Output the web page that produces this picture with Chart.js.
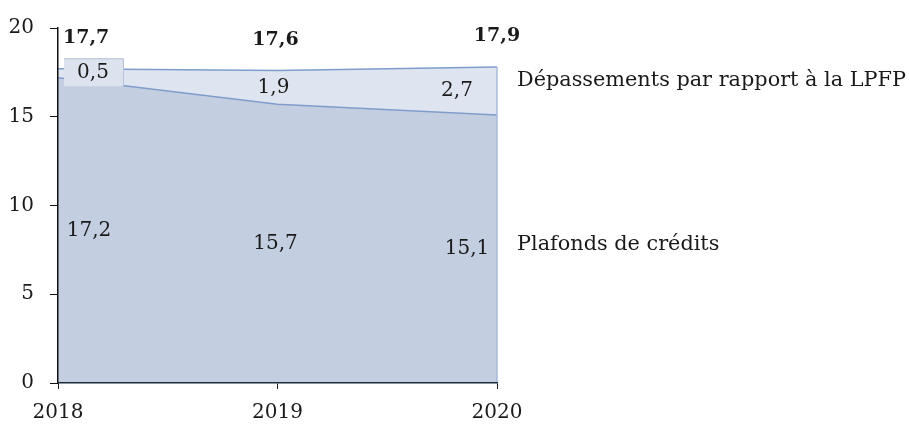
<!DOCTYPE html>
<html>
<head>
<meta charset="utf-8">
<script src="https://cdn.jsdelivr.net/npm/chart.js@4"></script>
<style>
  html, body { margin: 0; padding: 0; background: #fff; }
  #wrap { width: 909px; height: 424px; }
</style>
</head>
<body>
<div id="wrap"><canvas id="plafondsChart" width="909" height="424"></canvas></div>
<script>
const years = ["2018", "2019", "2020"];
const plafonds = [17.2, 15.7, 15.1];
const depassements = [0.5, 1.9, 2.7];
const totals = [17.7, 17.6, 17.9];
const seriesNames = ["Plafonds de crédits", "Dépassements par rapport à la LPFP"];
const yTicks = [0, 5, 10, 15, 20];

const FONT = "'DejaVu Serif', 'Liberation Serif', serif";
const INK = "#1a1a1a";
const fmt = (v) => v.toFixed(1).replace(".", ",");

// label nudges in px, per year
const bottomDx = [31, -2, -30];
const topDx = [35, -4, -40];
const totalDx = [5, -2, 0];
const totalAlign = ["left", "center", "center"];

const labelPlugin = {
  id: "areaLabels",
  afterDatasetsDraw(chart) {
    const { ctx, scales: { x, y } } = chart;
    ctx.save();

    // right edge of the stacked area
    const last = years.length - 1;
    const xr = x.getPixelForValue(last);
    ctx.strokeStyle = "#a8bbdb";
    ctx.lineWidth = 1.5;
    ctx.beginPath();
    ctx.moveTo(xr, y.getPixelForValue(plafonds[last] + depassements[last]));
    ctx.lineTo(xr, y.getPixelForValue(0));
    ctx.stroke();

    ctx.textBaseline = "middle";
    ctx.fillStyle = INK;

    years.forEach((_, i) => {
      const px = x.getPixelForValue(i);
      const lo = plafonds[i];
      const hi = plafonds[i] + depassements[i];

      // bottom band value
      ctx.font = `20px ${FONT}`;
      ctx.textAlign = "center";
      ctx.fillText(fmt(lo), px + bottomDx[i], y.getPixelForValue(lo / 2));

      // top band value (first one sits in a small box)
      const ty = y.getPixelForValue((lo + hi) / 2);
      const tx = px + topDx[i];
      if (i === 0) {
        ctx.fillStyle = "#dce3ef";
        ctx.fillRect(tx - 29, ty - 15, 60, 28);
        ctx.strokeStyle = "#b7c3d8";
        ctx.lineWidth = 1;
        ctx.beginPath();
        ctx.moveTo(tx - 29, ty - 14.5);
        ctx.lineTo(tx + 30.5, ty - 14.5);
        ctx.lineTo(tx + 30.5, ty + 13);
        ctx.stroke();
        ctx.fillStyle = INK;
      }
      ctx.fillText(fmt(depassements[i]), tx, ty);

      // total above the area
      ctx.font = `bold 19px ${FONT}`;
      ctx.textAlign = totalAlign[i];
      ctx.fillText(fmt(totals[i]), px + totalDx[i], y.getPixelForValue(hi) - 31);
    });

    // series names on the right
    ctx.font = `20.8px ${FONT}`;
    ctx.textAlign = "left";
    const nx = xr + 20;
    ctx.fillText(seriesNames[1], nx, 81);
    ctx.fillText(seriesNames[0], nx, 245);

    ctx.restore();
  },
};

new Chart(document.getElementById("plafondsChart"), {
  type: "line",
  data: {
    labels: years,
    datasets: [
      {
        label: seriesNames[0],
        data: plafonds,
        fill: "origin",
        backgroundColor: "#c3cee1",
        borderColor: "#7f9dcc",
        borderWidth: 1.5,
        pointRadius: 0,
        tension: 0,
      },
      {
        label: seriesNames[1],
        data: depassements,
        fill: "-1",
        backgroundColor: "#dfe5f0",
        borderColor: "#7f9dcc",
        borderWidth: 1.5,
        pointRadius: 0,
        tension: 0,
      },
    ],
  },
  options: {
    responsive: false,
    animation: false,
    layout: { padding: { left: 0, top: 22, right: 412, bottom: 0 } },
    plugins: {
      legend: { display: false },
      tooltip: { enabled: false },
    },
    scales: {
      x: {
        offset: false,
        grid: { drawOnChartArea: false, drawTicks: true, tickLength: 6, tickColor: "#222" },
        border: { color: "#1e2a3c", width: 1.5, z: 1 },
        ticks: { color: INK, font: { family: FONT, size: 20 }, padding: 12, maxRotation: 0 },
        afterFit: (scale) => { scale.height = 41; },
      },
      y: {
        stacked: true,
        min: 0,
        max: 20,
        afterBuildTicks: (scale) => { scale.ticks = yTicks.map((v) => ({ value: v })); },
        grid: { drawOnChartArea: false, drawTicks: true, tickLength: 8, tickColor: "#111" },
        border: { color: "#111", width: 1.5, z: 1 },
        ticks: { color: INK, font: { family: FONT, size: 20 }, padding: 16 },
        afterFit: (scale) => { scale.width = 58; },
      },
    },
  },
  plugins: [labelPlugin],
});
</script>
</body>
</html>
